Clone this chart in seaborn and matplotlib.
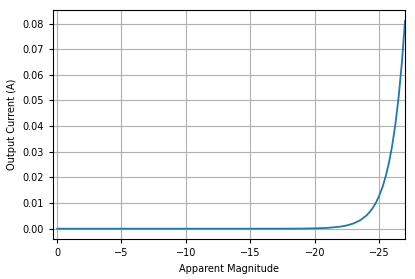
import seaborn as sns
import matplotlib.pyplot as plt
import pandas as pd

# Output current at each apparent magnitude
magnitude = [0, -5, -10, -15, -17, -18, -19, -20, -21, -22, -22.5, -23, -23.5,
             -24, -24.25, -24.5, -24.75, -25, -25.25, -25.5, -25.75, -26,
             -26.25, -26.5, -26.75, -27]
current = [0.0, 0.0, 0.0, 0.000001, 0.000008, 0.00002, 0.00005, 0.00013,
           0.00032, 0.00081, 0.00129, 0.00204, 0.00323, 0.00512, 0.00645,
           0.00812, 0.0102, 0.0129, 0.0162, 0.0204, 0.0257, 0.0323, 0.0407,
           0.0512, 0.0645, 0.0812]

df = pd.DataFrame({'Apparent Magnitude': magnitude, 'Output Current (A)': current})

sns.set_style("ticks", {'text.color': 'black', 'xtick.color': 'black',
                        'ytick.color': 'black', 'axes.labelcolor': 'black'})
plt.rcParams['font.family'] = ['DejaVu Sans']

fig, ax = plt.subplots(figsize=(4.15, 2.79), dpi=100)
fig.subplots_adjust(left=0.128, right=0.976, top=0.964, bottom=0.143)

sns.lineplot(data=df, x='Apparent Magnitude', y='Output Current (A)',
             color='#1f77b4', linewidth=1.3, ax=ax, sort=False)

ax.set_xlim(0.3, -27)
ax.margins(y=0.05)
ax.grid(True, color='#b0b0b0', linewidth=0.8)
ax.set_xticks([0, -5, -10, -15, -20, -25])
ax.set_yticks([0.0, 0.01, 0.02, 0.03, 0.04, 0.05, 0.06, 0.07, 0.08])
ax.tick_params(labelsize=7, length=3, width=0.8, direction='out')
ax.set_xlabel('Apparent Magnitude', fontsize=7)
ax.set_ylabel('Output Current (A)', fontsize=7)
for s in ax.spines.values():
    s.set_color('black')
    s.set_linewidth(0.8)

plt.savefig('out.png', dpi=100)
